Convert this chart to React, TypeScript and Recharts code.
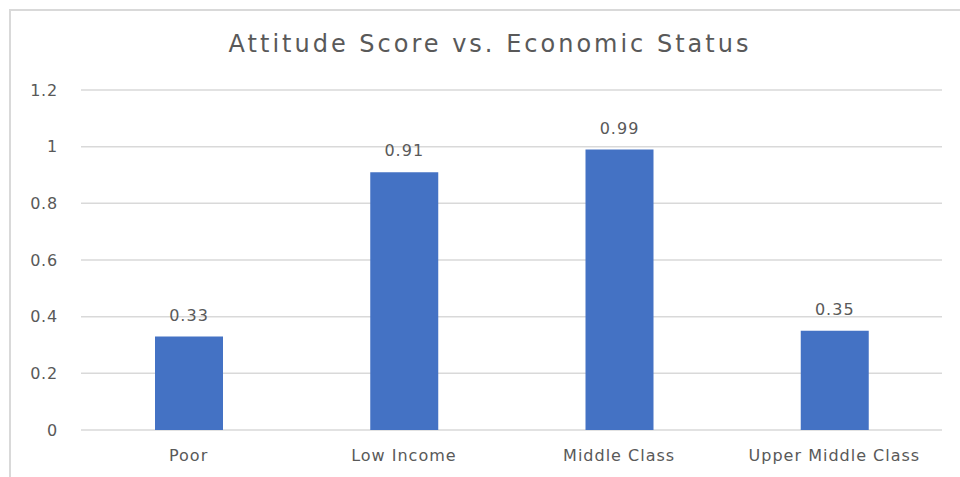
import React from 'react'
import { BarChart, Bar, XAxis, YAxis, CartesianGrid, LabelList } from 'recharts'

const statusLabels = ['Poor', 'Low Income', 'Middle Class', 'Upper Middle Class']
const attitudeScores = [0.33, 0.91, 0.99, 0.35]
const yTicks = [0, 0.2, 0.4, 0.6, 0.8, 1, 1.2]

const chartData = statusLabels.map((status, i) => ({ status, score: attitudeScores[i] }))

const textColor = '#595959'
const gridColor = '#d9d9d9'
const font = '"DejaVu Sans", sans-serif'

export default function App() {
  return (
    <div
      style={{
        position: 'absolute',
        left: 0,
        top: 0,
        width: 960,
        height: 477,
        overflow: 'hidden',
        background: '#fff',
        fontFamily: font
      }}
    >
      {/* chart frame, runs off the right and bottom edge */}
      <div
        style={{
          position: 'absolute',
          left: 9,
          top: 9,
          width: 980,
          height: 500,
          border: `2px solid ${gridColor}`,
          boxSizing: 'border-box'
        }}
      />
      <div
        style={{
          position: 'absolute',
          left: 10,
          top: 30,
          width: 960,
          textAlign: 'center',
          fontSize: 24,
          lineHeight: '28px',
          letterSpacing: 3,
          color: textColor
        }}
      >
        Attitude Score vs. Economic Status
      </div>
      <div style={{ position: 'absolute', left: 0, top: 0 }}>
        <BarChart
          width={960}
          height={477}
          data={chartData}
          margin={{ top: 90, right: 18, bottom: 17, left: 21 }}
          style={{ fontFamily: font }}
        >
          <CartesianGrid horizontal vertical={false} stroke={gridColor} strokeWidth={1.5} />
          <XAxis
            dataKey="status"
            height={30}
            interval={0}
            axisLine={false}
            tickLine={false}
            tickMargin={14}
            tick={{ fill: textColor, fontSize: 16, letterSpacing: 1 }}
          />
          <YAxis
            width={60}
            domain={[0, 1.2]}
            ticks={yTicks}
            axisLine={false}
            tickLine={false}
            tickMargin={17}
            tick={{ fill: textColor, fontSize: 16, letterSpacing: 0.8 }}
          />
          <Bar dataKey="score" fill="#4472C4" barSize={68} isAnimationActive={false}>
            <LabelList
              dataKey="score"
              position="top"
              offset={16}
              fill={textColor}
              fontSize={16}
              letterSpacing={1}
            />
          </Bar>
        </BarChart>
      </div>
    </div>
  )
}
